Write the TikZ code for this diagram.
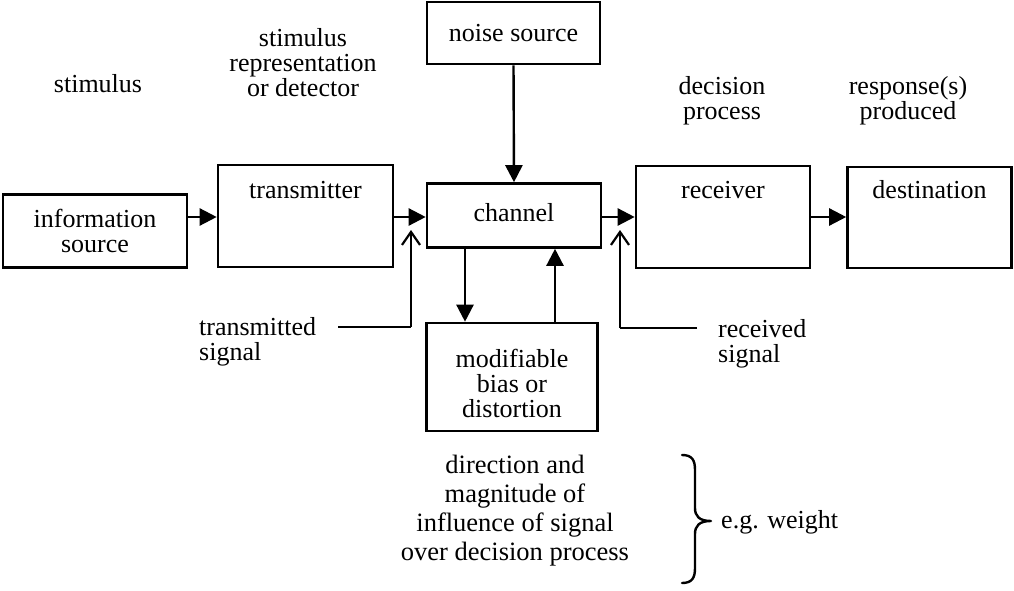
\documentclass[tikz,border=0pt]{standalone}
\usepackage{fontspec}
\setmainfont{Liberation Serif}
\usetikzlibrary{arrows.meta}
\begin{document}
\begin{tikzpicture}[x=1pt,y=-1pt,
  every node/.style={font=\fontsize{26}{25}\selectfont, inner sep=0pt},
  blk/.style={draw, line width=2.6pt, rectangle, inner sep=0pt},
  lbl/.style={align=center},
  fa/.style={line width=2.4pt, -{Triangle[length=17pt,width=17pt]}},
  oa/.style={line width=2.4pt, -{Straight Barb[length=13pt,width=18pt,line width=2.2pt]}},
  ln/.style={line width=2.4pt}]
\useasboundingbox (0,0) rectangle (1014,591);
% boxes
\node[blk, minimum width=184pt, minimum height=73pt] (src) at (95,231) {};
\node[blk, minimum width=175pt, minimum height=102pt] (tr) at (305.5,216) {};
\node[blk, minimum width=174pt, minimum height=64pt] (ch) at (514,215.5) {};
\node[blk, minimum width=173pt, minimum height=62pt] (ns) at (513.5,33) {};
\node[blk, minimum width=171pt, minimum height=108pt] (mb) at (512,377) {};
\node[blk, minimum width=174pt, minimum height=102pt] (rc) at (723,217) {};
\node[blk, minimum width=164pt, minimum height=101pt] (ds) at (929.5,217.5) {};
% box texts
\node[lbl] (srct) at (src.center) {information\\source};
\node[lbl] (trt) at (305.5,190) {transmitter};
\node[lbl] (cht) at (514,213) {channel};
\node[lbl] (nst) at (ns.center) {noise source};
\node[lbl] (mbt) at (512,383) {modifiable\\bias or\\distortion};
\node[lbl] (rct) at (723,190) {receiver};
\node[lbl] (dst) at (929.5,190) {destination};
% headings
\node[lbl] (h1) at (98,84) {stimulus};
\node[lbl] (h2) at (303,63) {stimulus\\representation\\or detector};
\node[lbl] (h3) at (722,101) {decision\\process};
\node[lbl] (h4) at (908,101) {response(s)\\produced};
% side labels
\node[align=left, anchor=west] (ts) at (199,342) {transmitted\\signal};
\node[align=left, anchor=west] (rs) at (718,344) {received\\signal};
% bottom text
\node[align=center, font=\fontsize{26.5}{29}\selectfont] (dir) at (515,511) {direction and\\magnitude of\\influence of signal\\over decision process};
\node[anchor=west] (eg) at (721,522) {e.g. weight};
% arrows
\draw[fa] (src.east |- 0,217) -- (tr.west |- 0,217);
\draw[fa] (tr.east |- 0,217) -- (ch.west |- 0,217);
\draw[fa] (ch.east |- 0,217) -- (rc.west |- 0,217);
\draw[fa] (rc.east |- 0,217) -- (ds.west |- 0,217);
\draw[fa] (ns.south) -- (ch.north);
\draw[fa] (ch.south -| 465,0) -- (mb.north -| 465,0);
\draw[fa] (mb.north -| 555,0) -- (ch.south -| 555,0);
% signals
\coordinate (tsa) at (338,327);
\coordinate (tsb) at (411,327);
\coordinate (tsc) at (411,230);
\draw[ln] (tsa) -- (tsb);
\draw[oa] (tsb) -- (tsc);
\coordinate (rsa) at (697,328);
\coordinate (rsb) at (620,328);
\coordinate (rsc) at (620,230);
\draw[ln] (rsa) -- (rsb);
\draw[oa] (rsb) -- (rsc);
% brace
\coordinate (b1) at (682,455);
\coordinate (bt) at (711,521);
\coordinate (b2) at (682,583);
\draw[line width=2.4pt, line cap=round]
  (b1) .. controls (692,455) and (695,460) .. (695,470)
  -- (695,508) .. controls (695,516) and (699,521) .. (bt)
  (bt) .. controls (699,521) and (695,526) .. (695,534)
  -- (695,568) .. controls (695,578) and (692,583) .. (b2);
\end{tikzpicture}
\end{document}
